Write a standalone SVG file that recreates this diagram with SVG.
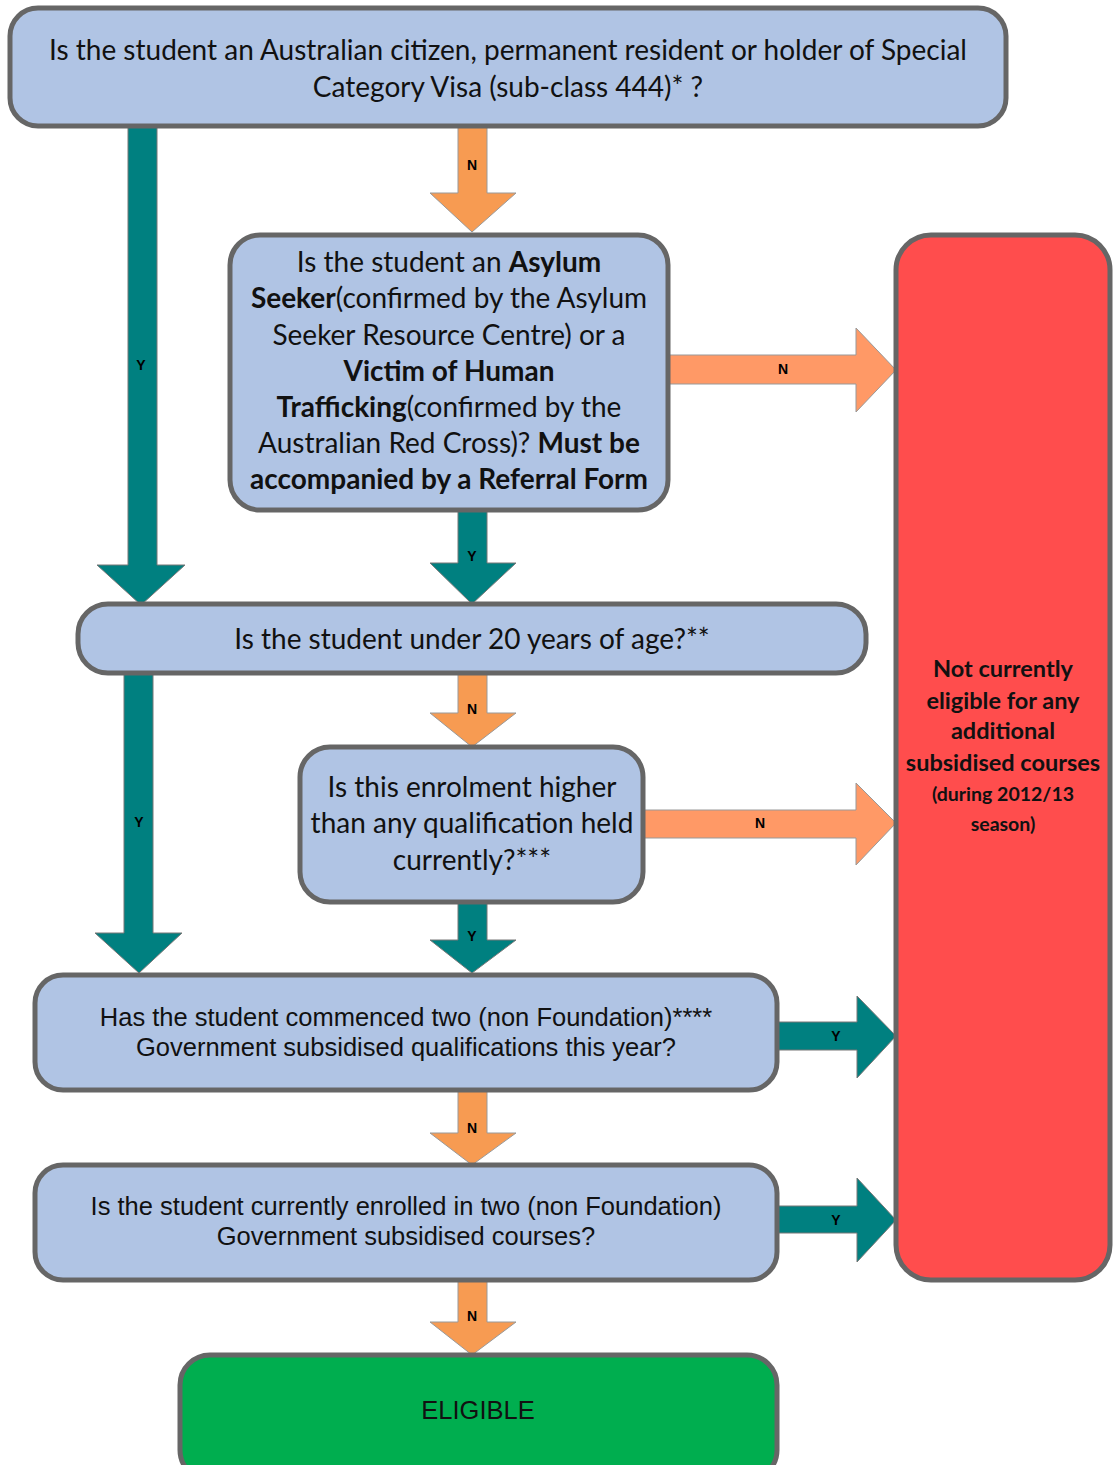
<svg xmlns="http://www.w3.org/2000/svg" width="1116" height="1465" viewBox="0 0 1116 1465">
<style>
.box{fill:#B0C4E4;stroke:#666;stroke-width:5}
.red{fill:#FF4D4D;stroke:#666;stroke-width:5}
.green{fill:#00AE4F;stroke:#666;stroke-width:5}
.t{font-family:Lato,"Open Sans",sans-serif;font-size:28px;fill:#111;text-anchor:middle}
.b{font-weight:bold}
.a{font-family:"Liberation Sans",Arial,sans-serif;font-size:25.5px;fill:#111;text-anchor:middle}
.rt{font-family:Lato,"Open Sans",sans-serif;font-size:23.5px;font-weight:bold;fill:#111;text-anchor:middle}
.rs{font-size:19.5px}
.lab{font-family:"Liberation Sans",Arial,sans-serif;font-size:14px;font-weight:bold;fill:#000;text-anchor:middle}
.or{fill:#F79B52;stroke:#999;stroke-width:1}
.or2{fill:#FF9966;stroke:#999;stroke-width:1}
.te{fill:#008080;stroke:#777;stroke-width:1}
</style>
<rect width="1116" height="1465" fill="#fff"/>
<g id="connectors">
  <path class="te" d="M128,126 H157 V565 H185 L141,605 L97,565 H128 Z"/>
  <text class="lab" x="141" y="370">Y</text>
  <path class="or" d="M458,126 H487 V193 H516 L472,232 L430,193 H458 Z"/>
  <text class="lab" x="472" y="170">N</text>
  <path class="or2" d="M668,355 H856 V328 L896,370 L856,412 V384 H668 Z"/>
  <text class="lab" x="783" y="374">N</text>
  <path class="te" d="M458,510 H487 V563 H516 L472,604 L430,563 H458 Z"/>
  <text class="lab" x="472" y="561">Y</text>
  <path class="te" d="M124,673 H153 V933 H182 L139,973 L95,933 H124 Z"/>
  <text class="lab" x="139" y="827">Y</text>
  <path class="or" d="M458,673 H487 V713 H516 L472,747 L430,713 H458 Z"/>
  <text class="lab" x="472" y="714">N</text>
  <path class="or2" d="M643,810 H856 V783 L896,823 L856,865 V838 H643 Z"/>
  <text class="lab" x="760" y="828">N</text>
  <path class="te" d="M458,902 H487 V940 H516 L472,973 L430,940 H458 Z"/>
  <text class="lab" x="472" y="941">Y</text>
  <path class="te" d="M777,1022 H857 V996 L896,1036 L857,1078 V1050 H777 Z"/>
  <text class="lab" x="836" y="1041">Y</text>
  <path class="or" d="M458,1090 H487 V1133 H516 L472,1165 L430,1133 H458 Z"/>
  <text class="lab" x="472" y="1133">N</text>
  <path class="te" d="M777,1206 H857 V1178 L896,1220 L857,1262 V1233 H777 Z"/>
  <text class="lab" x="836" y="1225">Y</text>
  <path class="or" d="M458,1280 H487 V1322 H516 L472,1355 L430,1322 H458 Z"/>
  <text class="lab" x="472" y="1321">N</text>
</g>
<g id="n1">
  <rect class="box" x="10" y="8" width="996" height="118" rx="28"/>
  <text class="t" x="508" y="60">Is the student an Australian citizen, permanent resident or holder of Special</text>
  <text class="t" x="508" y="97">Category Visa (sub-class 444)* ?</text>
</g>
<g id="n2">
  <rect class="box" x="230" y="235" width="438" height="275" rx="30"/>
  <text class="t" x="449" y="272">Is the student an <tspan class="b">Asylum</tspan></text>
  <text class="t" x="449" y="308"><tspan class="b">Seeker</tspan>(confirmed by the Asylum</text>
  <text class="t" x="449" y="345">Seeker Resource Centre) or a</text>
  <text class="t b" x="449" y="381">Victim of Human</text>
  <text class="t" x="449" y="417"><tspan class="b">Trafficking</tspan>(confirmed by the</text>
  <text class="t" x="449" y="453">Australian Red Cross)? <tspan class="b">Must be</tspan></text>
  <text class="t b" x="449" y="489">accompanied by a Referral Form</text>
</g>
<g id="n_red">
  <rect class="red" x="896" y="235" width="214" height="1045" rx="35"/>
  <text class="rt" x="1003" y="677">Not currently</text>
  <text class="rt" x="1003" y="709">eligible for any</text>
  <text class="rt" x="1003" y="739">additional</text>
  <text class="rt" x="1003" y="771">subsidised courses</text>
  <text class="rt rs" x="1003" y="801">(during 2012/13</text>
  <text class="rt rs" x="1003" y="831">season)</text>
</g>
<g id="n3">
  <rect class="box" x="78" y="604" width="788" height="69" rx="30"/>
  <text class="t" x="472" y="649">Is the student under 20 years of age?**</text>
</g>
<g id="n4">
  <rect class="box" x="300" y="747" width="343" height="155" rx="30"/>
  <text class="t" x="472" y="797">Is this enrolment higher</text>
  <text class="t" x="472" y="833">than any qualification held</text>
  <text class="t" x="472" y="870">currently?***</text>
</g>
<g id="n5">
  <rect class="box" x="35" y="975" width="742" height="115" rx="28"/>
  <text class="a" x="406" y="1026">Has the student commenced two (non Foundation)****</text>
  <text class="a" x="406" y="1056">Government subsidised qualifications this year?</text>
</g>
<g id="n6">
  <rect class="box" x="35" y="1165" width="742" height="115" rx="28"/>
  <text class="a" x="406" y="1215">Is the student currently enrolled in two (non Foundation)</text>
  <text class="a" x="406" y="1245">Government subsidised courses?</text>
</g>
<g id="n_eligible">
  <rect class="green" x="180" y="1355" width="597" height="125" rx="30"/>
  <text class="a" x="478" y="1419">ELIGIBLE</text>
</g>
</svg>
